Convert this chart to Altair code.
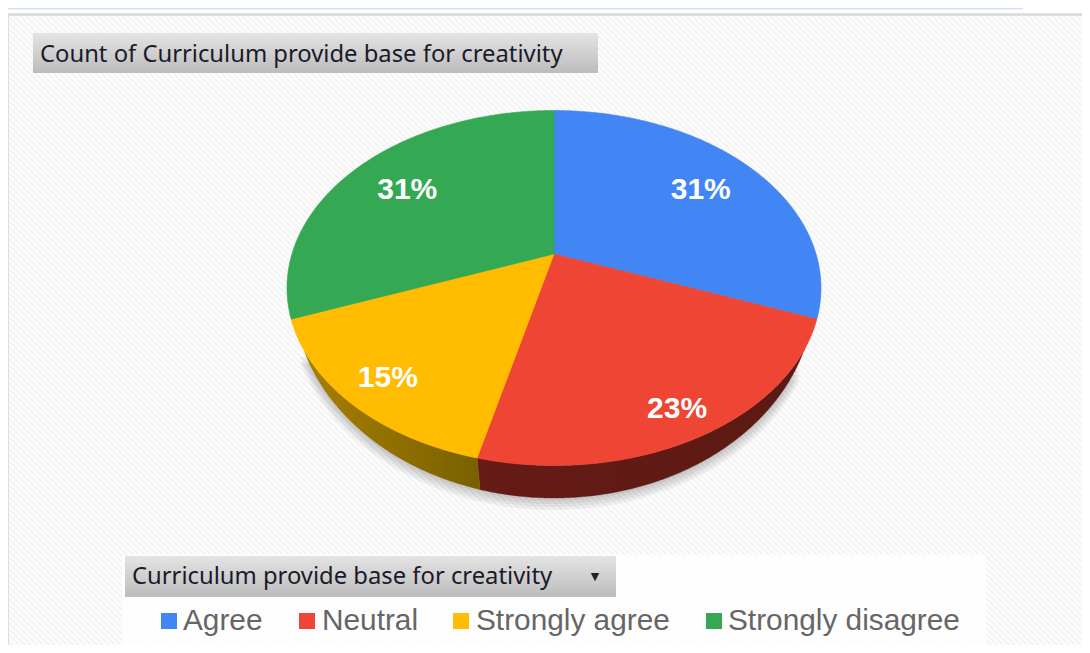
import math
import altair as alt
import pandas as pd

# ---- values ----
categories = ["Agree", "Neutral", "Strongly agree", "Strongly disagree"]
counts = [4, 3, 2, 4]
pct_labels = ["31%", "23%", "15%", "31%"]
colors = ["#4285f4", "#ee4535", "#ffbc00", "#34a853"]
chart_title = "Count of Curriculum provide base for creativity"
legend_title = "Curriculum provide base for creativity"

# ---- layout (picture pixels) ----
W, H = 1074, 637
APEX = (554, 254)
CX, CY, RX, RY = 554, 288, 267, 177.5
ASPECT = 1.53
LOW_CY, LOW_RX, LOW_RY = 294, 260, 204
LABEL_F = [0.755, 0.84, 0.82, 0.755]
legend_swatch_x = [161, 299, 453, 706]
legend_text_x = [183, 322, 476, 728]

X = alt.X("x:Q", axis=None, scale=alt.Scale(domain=[8, 8 + W], range=[0, W]))
Y = alt.Y("y:Q", axis=None, scale=alt.Scale(domain=[8, 8 + H], range=[0, H]))
X2 = alt.X2("x2:Q")
Y2 = alt.Y2("y2:Q")


def rim(theta_deg):
    t = math.radians(theta_deg)
    dx, dy = math.sin(t) * ASPECT, -math.cos(t)
    ox, oy = APEX[0] - CX, APEX[1] - CY
    a = (dx / RX) ** 2 + (dy / RY) ** 2
    b = 2 * (ox * dx / RX ** 2 + oy * dy / RY ** 2)
    c = (ox / RX) ** 2 + (oy / RY) ** 2 - 1
    s = (-b + math.sqrt(b * b - 4 * a * c)) / (2 * a)
    return APEX[0] + s * dx, APEX[1] + s * dy, s, dx, dy


def low(x, k=0):
    u = min(1, abs(x - CX) / (LOW_RX + k))
    return LOW_CY + k + (LOW_RY + k) * math.sqrt(1 - u * u)


def poly(pts, **mark):
    df = pd.DataFrame(pts, columns=["x", "y"])
    df["i"] = range(len(df))
    return alt.Chart(df).mark_line(**mark).encode(x=X, y=Y, order="i:Q")


def rect(x, x2, y, y2, **mark):
    return alt.Chart(pd.DataFrame([{"x": x, "x2": x2, "y": y, "y2": y2}])).mark_rect(**mark).encode(
        x=X, x2=X2, y=Y, y2=Y2
    )


def text(s, x, y, **mark):
    return alt.Chart(pd.DataFrame([{"x": x, "y": y, "t": s}])).mark_text(**mark).encode(x=X, y=Y, text="t:N")


def vgrad(a, b):
    return alt.Gradient(gradient="linear", x1=0, y1=0, x2=0, y2=1,
                        stops=[alt.GradientStop(color=a, offset=0), alt.GradientStop(color=b, offset=1)])


def hgrad(a, b):
    return alt.Gradient(gradient="linear", x1=0, y1=0, x2=1, y2=0,
                        stops=[alt.GradientStop(color=a, offset=0), alt.GradientStop(color=b, offset=1)])


layers = []

# page background, hatch and frame
layers.append(rect(8, 8 + W, 8, 8 + H, color="#fdfdfd"))
hatch = pd.DataFrame([{"x": x0, "x2": x0 + 700, "y": 16, "y2": 716} for x0 in range(-700, 1100, 6)])
layers.append(alt.Chart(hatch).mark_rule(color="#f4f4f4", strokeWidth=2.2, clip=True).encode(x=X, x2=X2, y=Y, y2=Y2))
layers.append(rect(8, 8 + W, 8, 16, color="#ffffff"))
layers.append(rect(8, 1023, 8, 9.5, color="#d3e3fc"))
layers.append(rect(8, 8 + W, 13, 16, color="#dedede"))
layers.append(rect(8, 9, 13, 8 + H, color="#dedede"))

# title box
layers.append(rect(33, 598, 33, 73, fill=vgrad("#e4e4e4", "#bcbcbc")))
layers.append(text(chart_title, 40, 54.5, align="left", baseline="middle", font="Noto Sans",
                   fontSize=23.8, color="#1a1a2a"))

# soft shadow beneath the pie
for k in (6, 4.5, 3, 1.5):
    xs = [300 + 5 * j for j in range(101)]
    pts = [(x, low(x, k)) for x in xs]
    pts = [(x, y) for x, y in pts if y > 352]
    pts.append(pts[0])
    layers.append(poly(pts, fill="#000000", fillOpacity=0.05, strokeWidth=0))

# pie edges
total = sum(counts)
bounds = [0]
for c in counts:
    bounds.append(bounds[-1] + c / total * 360)

neutral_end = rim(bounds[2])[:2]
upper = [rim(a / 2)[:2] for a in range(int(bounds[1] * 2), int(bounds[3] * 2) + 1)]
red_up = sorted(set([p for p in upper if neutral_end[0] - 0.01 <= p[0] <= 805] + [neutral_end]))
yel_up = sorted(set([p for p in upper if 304 <= p[0] <= neutral_end[0]] + [neutral_end]))

pts = red_up + [(x + (3 if x == neutral_end[0] else 0), low(x + (3 if x == neutral_end[0] else 0))) for x, _ in reversed(red_up)]
pts.append(pts[0])
layers.append(poly(pts, fill=hgrad("#661b15", "#5a1a12"), stroke="#5b1a13", strokeWidth=0.4))
pts = yel_up + [(x + (3 if x == neutral_end[0] else 0), low(x + (3 if x == neutral_end[0] else 0))) for x, _ in reversed(yel_up)]
pts.append(pts[0])
layers.append(poly(pts, fill=hgrad("#a87f00", "#786000"), stroke="#8a6c00", strokeWidth=0.3))

# pie top
for i, col in enumerate(colors):
    a0, a1 = bounds[i], bounds[i + 1]
    n = max(2, int((a1 - a0) * 2))
    pts = [APEX] + [rim(a0 + (a1 - a0) * j / n)[:2] for j in range(n + 1)] + [APEX]
    layers.append(poly(pts, fill=col, stroke=col, strokeWidth=0.6))

# percentage labels
for i, lab in enumerate(pct_labels):
    mid = (bounds[i] + bounds[i + 1]) / 2
    _, _, s, dx, dy = rim(mid)
    layers.append(text(lab, APEX[0] + LABEL_F[i] * s * dx, APEX[1] + LABEL_F[i] * s * dy + 1.8,
                       align="center", baseline="middle", font="Liberation Sans", fontWeight="bold",
                       fontSize=30, color="#ffffff"))

# legend
layers.append(rect(122, 986, 555, 8 + H, color="#ffffff", opacity=0.75))
layers.append(rect(125, 616, 556, 597, fill=vgrad("#e4e4e4", "#bcbcbc")))
layers.append(text(legend_title, 132, 577, align="left", baseline="middle", font="Noto Sans",
                   fontSize=23.8, color="#1a1a2a"))
layers.append(text("▼", 595, 577, align="center", baseline="middle", font="DejaVu Sans",
                   fontSize=11, color="#222222"))
for i, cat in enumerate(categories):
    layers.append(rect(legend_swatch_x[i], legend_swatch_x[i] + 16, 613, 629, color=colors[i]))
    layers.append(text(cat, legend_text_x[i], 621, align="left", baseline="middle",
                       font="Liberation Sans", fontSize=29.8, color="#666666"))

chart = alt.layer(*layers).properties(
    width=W, height=H, autosize=alt.AutoSizeParams(type="none"), padding=0, background="#ffffff"
).configure_view(stroke=None)

chart.save("out.html", embed_options={"renderer": "svg", "actions": False})
